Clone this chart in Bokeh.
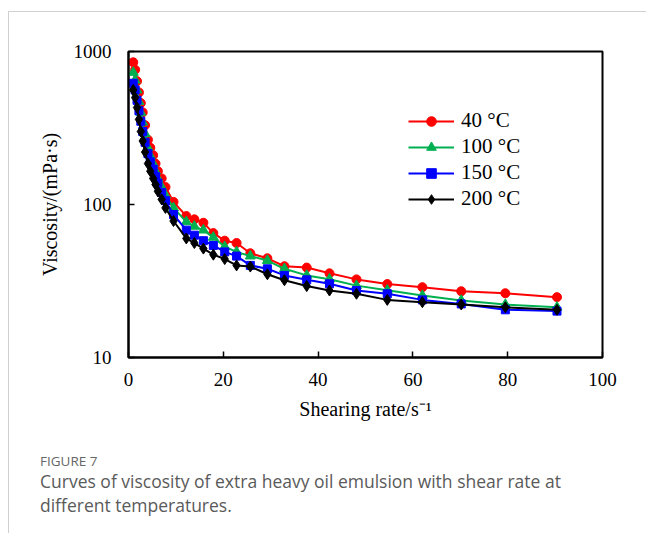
from bokeh.plotting import figure
from bokeh.layouts import column
from bokeh.models import (FixedTicker, NumeralTickFormatter, Legend, LegendItem, Range1d, Div)
from bokeh.embed import file_html
from bokeh.resources import INLINE

shear_rate = [1.0, 1.4, 1.8, 2.2, 2.6, 3.0, 3.5, 4.1, 4.6, 5.2, 5.7, 6.2, 7.0, 7.8, 9.5,
              12.2, 13.9, 15.8, 17.9, 20.3, 22.8, 25.7, 29.3, 32.9, 37.6, 42.4, 48.1,
              54.6, 62.0, 70.2, 79.5, 90.4]
visc_40 = [850, 760, 640, 540, 460, 400, 330, 265, 235, 210, 185, 165, 148, 130, 104,
           84, 80, 76, 65, 58, 56, 48, 44.5, 39.5, 38.7, 35.5, 32.4, 30.2, 28.8, 27.1, 26.3, 24.8]
visc_100 = [730, 650, 560, 470, 400, 345, 290, 235, 208, 185, 165, 148, 130, 115, 95,
            77, 72, 68, 61, 53, 49, 46, 43, 38, 34.4, 32.5, 29.5, 27.5, 25.4, 23.6, 22.2, 21.3]
visc_150 = [620, 560, 480, 410, 350, 300, 255, 215, 190, 170, 152, 138, 120, 106, 86,
            68, 63, 58, 54, 49, 46, 40, 38, 34.4, 32.2, 30.3, 27.4, 26.1, 23.8, 22.4, 20.5, 20.1]
visc_200 = [560, 500, 430, 360, 300, 260, 220, 185, 165, 148, 135, 122, 108, 95, 78,
            60, 56, 51.5, 47, 44, 40, 39.3, 35, 32, 29.3, 27.4, 26.1, 23.8, 23.0, 22.2, 21.3, 20.5]
series_labels = ["40 \u00b0C", "100 \u00b0C", "150 \u00b0C", "200 \u00b0C"]
x_ticks = [0, 20, 40, 60, 80, 100]
y_ticks = [10, 100, 1000]
caption_lines = ["FIGURE 7",
                 "Curves of viscosity of extra heavy oil emulsion with shear rate at",
                 "different temperatures."]

SERIF = "Liberation Serif"
W = 637
p = figure(width=W, height=428, y_axis_type="log", output_backend="svg",
           toolbar_location=None, x_range=Range1d(0, 100), y_range=Range1d(10, 1000),
           min_border_left=119, min_border_right=44, min_border_top=39, min_border_bottom=83)
p.grid.visible = False
p.outline_line_color = "black"
p.outline_line_width = 2
p.background_fill_color = "white"
p.border_fill_color = "white"

for ax in (p.xaxis[0], p.yaxis[0]):
    ax.axis_line_width = 2
    ax.major_tick_in = 6
    ax.major_tick_out = 0
    ax.minor_tick_line_color = None
    ax.major_tick_line_width = 1.5
    ax.major_label_text_font = SERIF
    ax.major_label_text_font_size = "19px"
    ax.major_label_text_color = "black"
    ax.axis_label_text_font = SERIF
    ax.axis_label_text_font_size = "20px"
    ax.axis_label_text_font_style = "normal"
    ax.axis_label_text_color = "black"
p.xaxis.ticker = FixedTicker(ticks=x_ticks)
p.yaxis.ticker = FixedTicker(ticks=y_ticks)
p.yaxis.formatter = NumeralTickFormatter(format="0")
p.xaxis.major_label_standoff = 15
p.yaxis.major_label_standoff = 17
p.xaxis.axis_label = "Shearing rate/s\u207b\u00b9"
p.yaxis.axis_label = "Viscosity/(mPa\u00b7s)"
p.xaxis.axis_label_standoff = 9
p.yaxis.axis_label_standoff = 10

styles = [("red", "circle", 9), ("#00b050", "triangle", 10), ("blue", "square", 8), ("black", "diamond", 11)]
all_vals = [visc_40, visc_100, visc_150, visc_200]
items = []
for vals, lab, (col, mk, sz) in zip(all_vals, series_labels, styles):
    r1 = p.line(shear_rate, vals, line_color=col, line_width=2)
    r2 = p.scatter(shear_rate, vals, marker=mk, size=sz, fill_color=col, line_color=col)
    items.append(LegendItem(label=lab, renderers=[r1, r2]))

leg = Legend(items=items, location=(280, 146), orientation="vertical")
leg.border_line_color = None
leg.background_fill_alpha = 0
leg.padding = 0
leg.margin = 0
leg.spacing = 1
leg.glyph_width = 46
leg.glyph_height = 24
leg.label_standoff = 7
leg.label_height = 24
leg.label_text_font = SERIF
leg.label_text_font_size = "21px"
leg.label_text_color = "black"
p.add_layout(leg, "center")

# caption
CH = 93
cap_html = (
    '<div style="font-family:\'Open Sans\';margin:0;padding:13px 0 0 31px;">'
    f'<div style="font-size:13.5px;line-height:16px;color:#666666;">{caption_lines[0]}</div>'
    f'<div style="font-size:17.5px;line-height:24px;color:#5a5a5a;white-space:nowrap;">{caption_lines[1]}</div>'
    f'<div style="font-size:17.5px;line-height:24px;color:#5a5a5a;white-space:nowrap;">{caption_lines[2]}</div>'
    '</div>'
)
cap = Div(text=cap_html, width=W, height=CH, margin=0)

layout = column(p, cap, spacing=0)
layout.styles = {"margin-left": "8px", "margin-top": "11px",
                 "border-top": "1.5px solid #d0d0d0", "border-left": "1.5px solid #d0d0d0"}

open("out.html", "w").write(file_html(layout, INLINE))
